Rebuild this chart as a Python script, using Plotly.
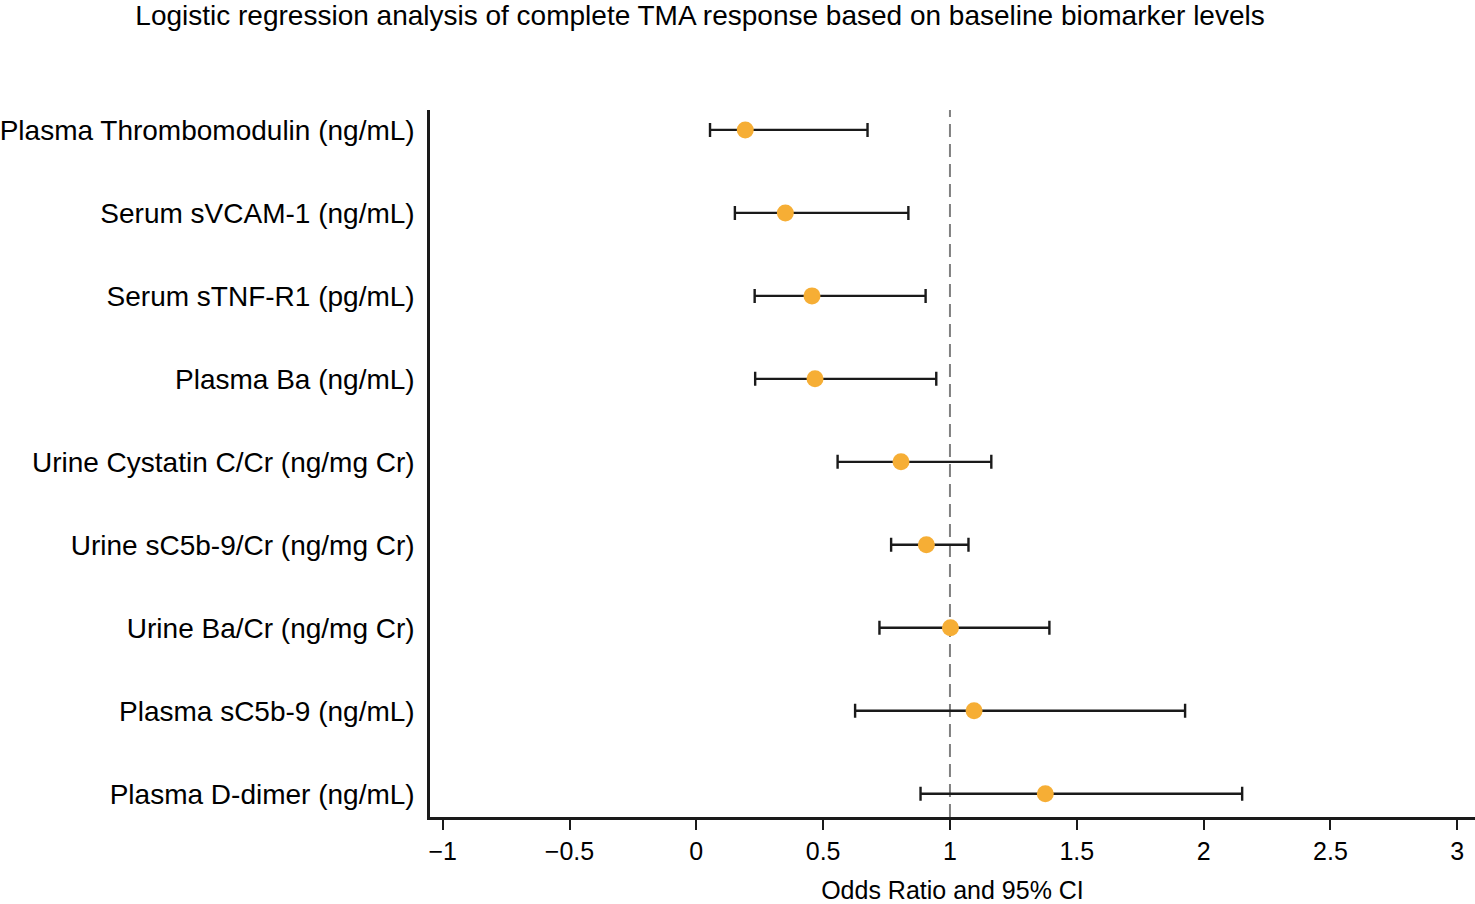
import plotly.graph_objects as go

biomarkers = [
    "Plasma Thrombomodulin (ng/mL)",
    "Serum sVCAM-1 (ng/mL)",
    "Serum sTNF-R1 (pg/mL)",
    "Plasma Ba (ng/mL)",
    "Urine Cystatin C/Cr (ng/mg Cr)",
    "Urine sC5b-9/Cr (ng/mg Cr)",
    "Urine Ba/Cr (ng/mg Cr)",
    "Plasma sC5b-9 (ng/mL)",
    "Plasma D-dimer (ng/mL)",
]
odds_ratio = [0.193, 0.351, 0.456, 0.468, 0.807, 0.907, 1.002, 1.095, 1.376]
ci_low = [0.054, 0.152, 0.230, 0.232, 0.557, 0.768, 0.722, 0.626, 0.884]
ci_high = [0.675, 0.836, 0.904, 0.946, 1.163, 1.073, 1.392, 1.927, 2.152]

x_tickvals = [-1, -0.5, 0, 0.5, 1, 1.5, 2, 2.5, 3]
x_ticktext = ["\u22121", "\u22120.5", "0", "0.5", "1", "1.5", "2", "2.5", "3"]

n = len(biomarkers)
ypos = [n - 1 - i for i in range(n)]

fig = go.Figure()
fig.add_trace(go.Scatter(
    x=odds_ratio, y=ypos, mode="markers",
    marker=dict(color="#F6AE35", size=17, line=dict(width=0)),
    error_x=dict(type="data", symmetric=False,
                 array=[h - o for h, o in zip(ci_high, odds_ratio)],
                 arrayminus=[o - l for o, l in zip(odds_ratio, ci_low)],
                 color="#1a1a1a", thickness=2.4, width=7),
    showlegend=False,
))
fig.add_shape(type="line", xref="x", yref="paper", x0=1, x1=1, y0=0, y1=1,
              line=dict(color="#808080", width=2, dash="13px,7px"), layer="below")

font = "Liberation Sans, Arial, sans-serif"
fig.update_layout(
    width=1475, height=904,
    paper_bgcolor="white", plot_bgcolor="white",
    margin=dict(l=428, r=0, t=110, b=81),
    title=dict(text="Logistic regression analysis of complete TMA response based on baseline biomarker levels",
               x=0.4746, xanchor="center", y=1 - 15 / 904, yanchor="middle",
               font=dict(family=font, size=28, color="black")),
    font=dict(family=font, color="black"),
)
fig.update_xaxes(
    range=[-1.05, 3.07], tickvals=x_tickvals, ticktext=x_ticktext,
    showline=True, linecolor="#1a1a1a", linewidth=2.5,
    ticks="outside", ticklen=10, tickwidth=2, tickcolor="#1a1a1a",
    showgrid=False, zeroline=False,
    tickfont=dict(family=font, size=25),
    title=dict(text="Odds Ratio and 95% CI", font=dict(family=font, size=25), standoff=22),
)
fig.update_yaxes(
    range=[-0.28, n - 1 + 0.24], tickvals=ypos, ticktext=biomarkers,
    showline=True, linecolor="#1a1a1a", linewidth=2.5,
    ticks="", showgrid=False, zeroline=False,
    tickfont=dict(family=font, size=28), ticklabelstandoff=7,
)
fig.write_html("out.html", config={"displayModeBar": False},
               post_script="document.body.style.margin='0';")
